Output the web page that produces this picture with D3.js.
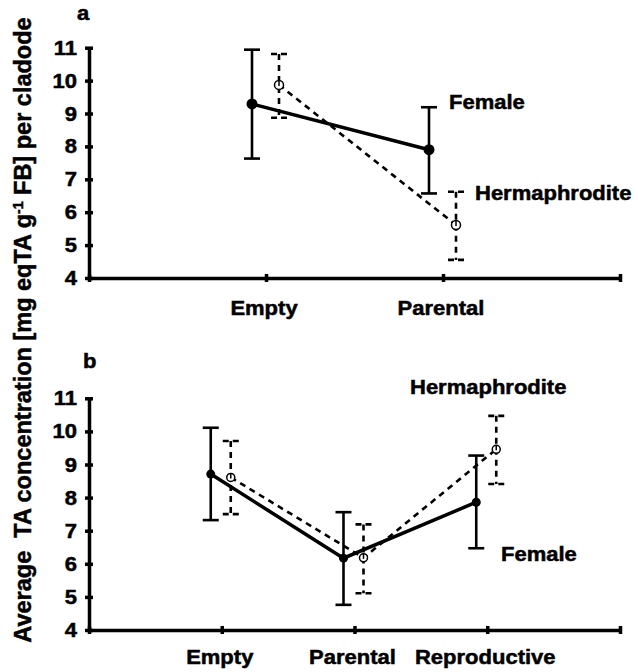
<!DOCTYPE html>
<html>
<head>
<meta charset="utf-8">
<script src="https://cdn.jsdelivr.net/npm/d3@7/dist/d3.min.js"></script>
<style>
  html, body { margin: 0; padding: 0; background: #fff; }
  svg { display: block; }
  text { font-family: "Liberation Sans", Arial, sans-serif; font-weight: bold; fill: #000; stroke: #000; stroke-width: 0.5px; white-space: pre; }
</style>
</head>
<body>
<svg id="chart" width="638" height="672"></svg>
<script>
// ---------- data ----------
const yTicks = [4, 5, 6, 7, 8, 9, 10, 11];

const catsA = ["Empty", "Parental"];
const femaleA = [9.29, 7.90];
const femaleAHi = [10.94, 9.19];
const femaleALo = [7.63, 6.57];
const hermA = [9.87, 5.61];
const hermAHi = [10.81, 6.62];
const hermALo = [8.87, 4.55];

const catsB = ["Empty", "Parental", "Reproductive"];
const femaleB = [8.71, 6.17, 7.86];
const femaleBHi = [10.11, 7.56, 9.27];
const femaleBLo = [7.32, 4.76, 6.47];
const hermB = [8.61, 6.18, 9.46];
const hermBHi = [9.71, 7.19, 10.47];
const hermBLo = [7.50, 5.11, 8.41];

// ---------- drawing ----------
const svg = d3.select("#chart");
const SX = 1.1; // horizontal stretch of glyphs
const FS = 20;

function txt(g, x, y, s, anchor, size) {
  return g.append("text")
    .attr("transform", `translate(${x},${y}) scale(${SX},1)`)
    .attr("text-anchor", anchor || "start")
    .style("font-size", (size || FS) + "px")
    .text(s);
}

function panel(cfg) {
  const g = svg.append("g");
  const x = d3.scaleLinear().domain([0, cfg.cats.length + 1]).range([89, 620]);
  const y = d3.scaleLinear().domain([4, 11]).range([cfg.yBottom, cfg.yTop]);

  // y axis
  const ya = g.append("g").attr("transform", `translate(${x(0)},0)`)
    .call(d3.axisLeft(y).tickValues(yTicks).tickFormat("").tickSize(4).tickSizeOuter(0));
  ya.select(".domain").attr("stroke", "#000").attr("stroke-width", 3.5);
  ya.selectAll(".tick line").attr("x1", -4).attr("x2", 4).attr("stroke", "#000").attr("stroke-width", 3.5);
  yTicks.forEach(v => txt(g, 77, y(v) + 7, String(v), "end", 20));

  // x axis
  const xt = d3.range(0, cfg.cats.length + 2);
  const xa = g.append("g").attr("transform", `translate(0,${y(4)})`)
    .call(d3.axisBottom(x).tickValues(xt).tickFormat("").tickSize(4).tickSizeOuter(0));
  xa.select(".domain").attr("stroke", "#000").attr("stroke-width", 3.5);
  xa.selectAll(".tick line").attr("y1", -4).attr("y2", 4).attr("stroke", "#000").attr("stroke-width", 3.5);
  cfg.cats.forEach((c, i) => txt(g, x(i + 1) - 2, y(4) + cfg.labelDy, c, "middle", 20));

  // panel letter
  txt(g, cfg.letterX, cfg.letterY, cfg.letter, "start", 20);

  const series = [
    { vals: cfg.f, hi: cfg.fHi, lo: cfg.fLo, off: cfg.fOff, dash: null, lw: 3.5, ew: 2.6, filled: true },
    { vals: cfg.h, hi: cfg.hHi, lo: cfg.hLo, off: cfg.hOff, dash: "6,5", lw: 2.6, ew: 2.6, filled: false }
  ];

  series.forEach(s => {
    const px = i => x(i + 1) + s.off;
    s.vals.forEach((v, i) => {
      const eb = g.append("g").attr("stroke", "#000").attr("stroke-width", s.ew).attr("fill", "none");
      eb.append("line").attr("x1", px(i)).attr("x2", px(i)).attr("y1", y(s.hi[i])).attr("y2", y(s.lo[i]))
        .attr("stroke-dasharray", s.dash);
      [s.hi[i], s.lo[i]].forEach(e => {
        eb.append("line").attr("x1", px(i) - 8).attr("x2", px(i) + 8).attr("y1", y(e)).attr("y2", y(e))
          .attr("stroke-dasharray", s.dash ? "6,4" : null);
      });
    });
  });

  series.forEach(s => {
    const px = i => x(i + 1) + s.off;
    const line = d3.line().x((d, i) => px(i)).y(d => y(d));
    g.append("path").datum(s.vals).attr("d", line)
      .attr("fill", "none").attr("stroke", "#000").attr("stroke-width", s.lw)
      .attr("stroke-dasharray", s.dash);
  });

  series.forEach(s => {
    const px = i => x(i + 1) + s.off;
    s.vals.forEach((v, i) => {
      g.append("circle").attr("cx", px(i)).attr("cy", y(v))
        .attr("r", s.filled ? cfg.rF : cfg.rH)
        .attr("fill", s.filled ? "#000" : "#fff")
        .attr("stroke", "#000").attr("stroke-width", s.filled ? 0 : 1.5);
      if (!s.filled) {
        g.append("line").attr("x1", px(i)).attr("x2", px(i)).attr("y1", y(v) - cfg.rH).attr("y2", y(v) + 1)
          .attr("stroke", "#000").attr("stroke-width", 1.5);
      }
    });
  });

  cfg.labels.forEach(l => txt(g, l.x, l.y, l.t, "start", 20));
}

panel({
  cats: catsA, yTop: 47.7, yBottom: 278, labelDy: 37,
  f: femaleA, fHi: femaleAHi, fLo: femaleALo, fOff: -14,
  h: hermA, hHi: hermAHi, hLo: hermALo, hOff: 13,
  rF: 5.5, rH: 4.5,
  letter: "a", letterX: 77, letterY: 20,
  labels: [{ t: "Female", x: 449, y: 109 }, { t: "Hermaphrodite", x: 475, y: 200 }]
});

panel({
  cats: catsB, yTop: 398.3, yBottom: 630, labelDy: 34,
  f: femaleB, fHi: femaleBHi, fLo: femaleBLo, fOff: -11,
  h: hermB, hHi: hermBHi, hLo: hermBLo, hOff: 9,
  rF: 4.5, rH: 4,
  letter: "b", letterX: 83, letterY: 368,
  labels: [{ t: "Hermaphrodite", x: 410, y: 394 }, { t: "Female", x: 501, y: 561 }]
});

// y-axis title
const yl = svg.append("text")
  .attr("transform", `translate(31,330) rotate(-90)`)
  .attr("text-anchor", "middle")
  .style("font-size", "23.5px");
yl.append("tspan").text("Average  TA concentration [mg eqTA g");
yl.append("tspan").attr("dy", -8).style("font-size", "14px").text("-1");
yl.append("tspan").attr("dy", 8).text(" FB] per cladode");
</script>
</body>
</html>
